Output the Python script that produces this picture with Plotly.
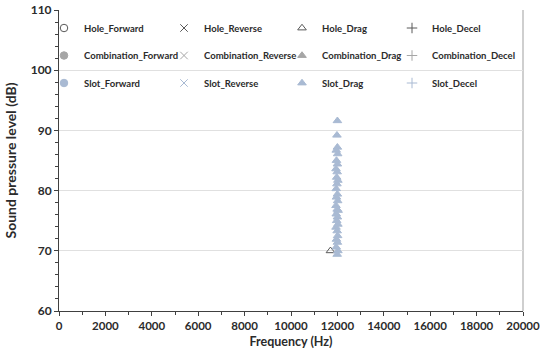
import plotly.graph_objects as go

# ---- data ----
hole_drag_freq = [11700]
hole_drag_spl = [70.0]

slot_drag_freq = [12000, 11980, 12000, 11950, 12010, 11960, 12000, 11940, 11990, 11970,
                  12020, 11980, 11950, 12000, 11960, 12010, 11940, 11990, 12030, 11950,
                  12000, 11970, 12020, 11940, 11990, 12010, 11960, 12000, 11950, 12020, 11990]
slot_drag_spl = [91.6, 89.2, 87.2, 86.7, 86.1, 85.0, 84.4, 83.6, 83.1, 82.2,
                 81.7, 81.1, 80.3, 79.4, 78.9, 78.3, 77.5, 76.9, 76.7, 76.1,
                 75.6, 75.0, 74.4, 73.9, 73.3, 72.5, 71.9, 71.4, 70.6, 70.0, 69.4]

groups = ["Hole", "Combination", "Slot"]
modes = ["Forward", "Reverse", "Drag", "Decel"]
x_ticks = list(range(0, 20001, 2000))
y_ticks = list(range(60, 111, 10))

# ---- styles ----
group_color = {"Hole": "#595959", "Combination": "#A6A6A6", "Slot": "#A9BAD3"}
symbols_hole = {"Forward": "circle-open", "Reverse": "x-thin-open",
                "Drag": "triangle-up-open", "Decel": "cross-thin-open"}
symbols_fill = {"Forward": "circle", "Reverse": "x-thin-open",
                "Drag": "triangle-up", "Decel": "cross-thin-open"}

data_map = {("Hole", "Drag"): (hole_drag_freq, hole_drag_spl),
            ("Slot", "Drag"): (slot_drag_freq, slot_drag_spl)}

W, H = 541, 359
font_family = "Lato, 'Open Sans', sans-serif"
txt_color = "#2b2b2b"

# legend placement (container pixels): left edge of each column, centre of each row
col_left_px = [44, 164, 282, 392]
row_mid_px = [28, 55.5, 83]

fig = go.Figure()
legend_layouts = {}
k = 0
for gi, g in enumerate(groups):
    for mi, m in enumerate(modes):
        k += 1
        lid = "legend" if k == 1 else f"legend{k}"
        xs, ys = data_map.get((g, m), ([None], [None]))
        sym = symbols_hole[m] if g == "Hole" else symbols_fill[m]
        fig.add_trace(go.Scatter(
            x=xs, y=ys, mode="markers", name=f"{g}_{m}",
            legend=lid, showlegend=True,
            marker=dict(symbol=sym, size=7.5, color=group_color[g],
                        line=dict(width=1, color=group_color[g])),
        ))
        legend_layouts[lid] = dict(
            orientation="h", xanchor="left", yanchor="middle",
            x=col_left_px[mi] / W, y=1 - row_mid_px[gi] / H,
            xref="container", yref="container",
            bgcolor="rgba(0,0,0,0)", borderwidth=0, itemsizing="trace", itemwidth=30,
            font=dict(family=font_family, size=9.5, color=txt_color, weight="bold"),
        )

fig.update_layout(
    width=W, height=H,
    margin=dict(l=59, r=18, t=10, b=48, autoexpand=False),
    paper_bgcolor="white", plot_bgcolor="white",
    font=dict(family=font_family, color=txt_color),
    **legend_layouts,
    xaxis=dict(range=[0, 20000], tickvals=x_ticks, ticktext=[str(v) for v in x_ticks],
               showgrid=False, zeroline=False, showline=True, linecolor="#404040",
               linewidth=1, ticks="outside", ticklen=4, tickcolor="#404040",
               minor=dict(dtick=1000, ticks="outside", ticklen=3, tickcolor="#404040"),
               tickfont=dict(family=font_family, size=11.5, color=txt_color, weight="bold"),
               title=dict(text="Frequency (Hz)", standoff=6,
                          font=dict(family=font_family, size=12.5, color=txt_color, weight="bold"))),
    yaxis=dict(range=[60, 110], tickvals=y_ticks, ticktext=[str(v) for v in y_ticks],
               showgrid=True, gridcolor="#E0E0E0", gridwidth=1, zeroline=False,
               showline=True, linecolor="#404040", linewidth=1,
               ticks="outside", ticklen=4, tickcolor="#404040",
               minor=dict(dtick=2, ticks="outside", ticklen=3, tickcolor="#404040", showgrid=False),
               tickfont=dict(family=font_family, size=12, color=txt_color, weight="bold"),
               title=dict(text="Sound pressure level (dB)", standoff=10,
                          font=dict(family=font_family, size=14, color=txt_color, weight="bold"))),
    shapes=[dict(type="line", xref="paper", yref="paper", x0=1, x1=1, y0=0, y1=1,
                 line=dict(color="#BFBFBF", width=1.5), layer="below")],
)

fig.write_html("out.html")
